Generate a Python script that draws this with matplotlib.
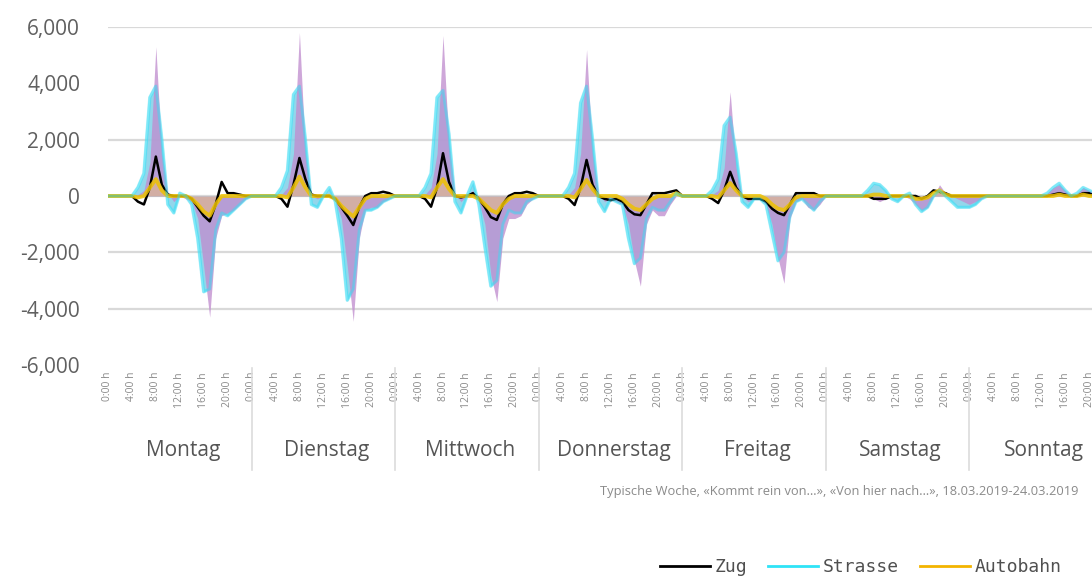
import matplotlib
matplotlib.use("Agg")
import matplotlib.pyplot as plt
import matplotlib.transforms as mtransforms
from matplotlib.lines import Line2D
import numpy as np

# ---------------- data (hourly values, Mo..So) ----------------
DAYS = ["Montag", "Dienstag", "Mittwoch", "Donnerstag", "Freitag", "Samstag", "Sonntag"]
HOUR_LABELS = ["0:00 h", "4:00 h", "8:00 h", "12:00 h", "16:00 h", "20:00 h"]
Y_TICKS = [-6000, -4000, -2000, 0, 2000, 4000, 6000]

ZUG = [
    0, 0, 0, 0, 0, -200, -300, 300, 1400, 400, 50, 0, 0, 0, -100, -400, -700, -900, -300, 500, 100, 100, 50, 0,
    0, 0, 0, 0, 0, -100, -380, 400, 1350, 600, 50, 0, 0, 0, -100, -400, -700, -1030, -400, 0, 100, 100, 150, 100,
    0, 0, 0, 0, 0, -100, -380, 300, 1520, 500, 0, -50, 0, 100, -100, -400, -750, -850, -300, 0, 100, 100, 150, 100,
    0, 0, 0, 0, 0, -100, -320, 300, 1280, 400, 0, -100, -150, -100, -200, -500, -650, -680, -300, 100, 100, 100, 150, 200,
    0, 0, 0, 0, 0, -100, -250, 200, 860, 300, 0, -100, -100, -100, -200, -450, -600, -680, -300, 100, 100, 100, 100, 0,
    0, 0, 0, 0, 0, 0, 0, 0, -100, -100, -100, 0, 0, 0, 0, 0, -100, 0, 200, 150, 100, 0, 0, 0,
    0, 0, 0, 0, 0, 0, 0, 0, 0, 0, 0, 0, 0, 0, 50, 100, 50, 0, 0, 100, 100, 0, 0, 0,
]
STRASSE = [
    0, 0, 0, 0, 0, 300, 800, 3500, 3900, 2000, -300, -600, 100, 0, -300, -1500, -3400, -3300, -1200, -600, -700, -500, -300, -100,
    0, 0, 0, 0, 0, 300, 900, 3600, 3900, 2000, -300, -400, 0, 300, -200, -1500, -3700, -3300, -1200, -500, -500, -400, -200, -100,
    0, 0, 0, 0, 0, 300, 800, 3500, 3750, 2200, -200, -600, 0, 500, -300, -1800, -3200, -3000, -1000, -500, -600, -600, -200, -100,
    0, 0, 0, 0, 0, 300, 800, 3300, 3900, 2000, -200, -550, -100, -200, -300, -1500, -2400, -2200, -800, -400, -500, -500, -200, 100,
    0, 0, 0, 0, 0, 200, 600, 2500, 2800, 1500, -200, -400, -100, -100, -300, -1300, -2300, -2000, -700, -200, -100, -300, -500, -200,
    0, 0, 0, 0, 0, 0, 0, 200, 450, 400, 200, -100, -200, 0, 100, -300, -550, -400, 0, 200, 0, -200, -400, -400,
    -400, -300, -100, 0, 0, 0, 0, 0, 0, 0, 0, 0, 0, 100, 300, 450, 200, 0, 100, 300, 200, 100, 0, 0,
]
AUTOBAHN = [
    0, 0, 0, 0, 0, -50, 0, 300, 600, 200, 0, 0, 0, 0, -100, -300, -550, -700, -300, 0, 0, 0, 0, 0,
    0, 0, 0, 0, 0, 0, -50, 300, 690, 300, 0, 0, 0, 0, -100, -350, -550, -730, -400, -100, 0, 0, 0, 0,
    0, 0, 0, 0, 0, 0, -50, 300, 600, 250, 0, 0, 0, 0, -100, -300, -500, -600, -300, -100, 0, 0, 0, 0,
    0, 0, 0, 0, 0, 0, -50, 250, 570, 250, 0, 0, 0, 0, -100, -300, -450, -500, -300, -100, 0, 0, 0, 100,
    0, 0, 0, 0, 0, 0, -50, 200, 460, 200, 0, 0, 0, 0, -100, -300, -450, -500, -300, -50, 0, 0, 0, 0,
    0, 0, 0, 0, 0, 0, 0, 0, 50, 50, 0, 0, 0, 0, 0, -100, -100, -50, 100, 200, 50, 0, 0, 0,
    0, 0, 0, 0, 0, 0, 0, 0, 0, 0, 0, 0, 0, 0, 0, 50, 0, 0, 0, 50, 0, 0, 0, 0,
]
GESAMT = [
    0, 0, 0, 0, 0, 50, 200, 1200, 5300, 1500, 100, -200, 0, -100, -200, -800, -2500, -4300, -1500, -700, -600, -500, -300, -100,
    0, 0, 0, 0, 0, 50, 300, 1500, 5800, 1500, 0, -100, 0, 0, -200, -800, -2500, -4450, -1500, -500, -400, -400, -200, -100,
    0, 0, 0, 0, 0, 50, 300, 1500, 5700, 1800, 100, -200, 0, 200, -200, -1000, -2800, -3750, -1500, -800, -800, -700, -300, -100,
    0, 0, 0, 0, 0, 50, 300, 1500, 5200, 1500, 100, -200, -100, -200, -300, -1000, -2300, -3200, -1000, -500, -700, -700, -300, 0,
    0, 0, 0, 0, 0, 50, 200, 1000, 3700, 1000, 0, -200, -100, -100, -300, -1000, -2200, -3100, -800, -200, -100, -400, -500, -300,
    0, 0, 0, 0, 0, 0, 0, 0, -100, -200, -100, 0, 0, 0, -100, -300, -500, -400, 0, 400, 100, 0, -100, -200,
    -300, -200, -100, 0, 0, 0, 0, 0, 0, 0, 0, 0, 0, 100, 300, 400, 200, 0, 100, 300, 200, 100, 0, 0,
]
SOURCE = "Typische Woche, «Kommt rein von…», «Von hier nach…», 18.03.2019-24.03.2019"

# ---------------- figure ----------------
W, H = 1092, 576
fig = plt.figure(figsize=(W / 100, H / 100), dpi=100)
ax_left, ax_right, ax_top, ax_bottom = 108, 1113, 27, 365
ax = fig.add_axes([ax_left / W, 1 - ax_bottom / H, (ax_right - ax_left) / W, (ax_bottom - ax_top) / H])

hours = np.arange(len(ZUG))
n_days = len(DAYS)

zug = np.array(ZUG, float)
strasse = np.array(STRASSE, float)
autobahn = np.array(AUTOBAHN, float)
gesamt = np.array(GESAMT, float)

C_ZUG, C_STR, C_AUTO = "#000000", "#2fe3f7", "#f3b400"

# blurred bands
ax.fill_between(hours, 0, strasse, color="#80cfe8", alpha=0.85, lw=0, zorder=2)
ax.plot(hours, strasse, color="#6fdcf2", lw=2.5, alpha=0.45, zorder=2.1)
ax.fill_between(hours, 0, gesamt, color="#c18ecf", alpha=0.78, lw=0, zorder=3)
ax.fill_between(hours, 0, autobahn, color="#f5c46a", alpha=0.45, lw=0, zorder=3.5)
# lines
ax.plot(hours, zug, color=C_ZUG, lw=1.8, zorder=4, label="Zug")
ax.plot(hours, autobahn, color="#eec200", lw=2.8, alpha=0.85, zorder=5, label="Autobahn")
ax.plot(hours, strasse, color=C_STR, lw=2.0, alpha=0.45, zorder=6, label="Strasse")

ax.set_xlim(0, 24 * n_days)
ax.set_ylim(-6000, 6000)
ax.set_yticks(Y_TICKS)
ax.set_yticklabels([f"{v:,}" for v in Y_TICKS], fontsize=15, color="#606060", family="Open Sans")
ax.tick_params(axis="y", length=0, pad=20)

xt = [24 * d + 4 * i for d in range(n_days) for i in range(len(HOUR_LABELS))]
ax.set_xticks(xt)
ax.set_xticklabels(HOUR_LABELS * n_days, rotation=90, fontsize=7.5, color="#8a8a8a",
                   family="Open Sans", va="top")
ax.tick_params(axis="x", length=0, pad=5)

for s in ax.spines.values():
    s.set_visible(False)

ax.grid(axis="y", color="#d9d9d9", lw=1.6, zorder=0)
ax.set_axisbelow(True)
for val, gl in zip(Y_TICKS, ax.get_ygridlines()):
    if val in (4000, -6000):
        gl.set_visible(False)

# day group labels and separators
trans = mtransforms.blended_transform_factory(ax.transData, ax.transAxes)
for d, name in enumerate(DAYS):
    ax.text(24 * d + 12.5, -0.254, name, transform=trans, ha="center", va="center",
            fontsize=15, color="#555555", family="Open Sans", clip_on=False)
    if d > 0:
        ax.plot([24 * d, 24 * d], [-0.01, -0.31], transform=trans, color="#dcdcdc",
                lw=1.2, clip_on=False)

fig.text(600 / W, 1 - 491 / H, SOURCE, ha="left", va="center", fontsize=9.3,
         color="#8a8a8a", family="Open Sans")

handles = [Line2D([], [], color=C_ZUG, lw=2),
           Line2D([], [], color=C_STR, lw=2),
           Line2D([], [], color=C_AUTO, lw=2)]
fig.legend(handles, ["Zug", "Strasse", "Autobahn"], loc="center left",
           bbox_to_anchor=(660 / W, 1 - 567 / H), ncol=3, frameon=False,
           prop={"family": "DejaVu Sans Mono", "size": 13}, labelcolor="#505050",
           handlelength=2.75, handletextpad=0.25, columnspacing=1.2,
           borderpad=0, borderaxespad=0)

fig.savefig("out.png", dpi=100)
